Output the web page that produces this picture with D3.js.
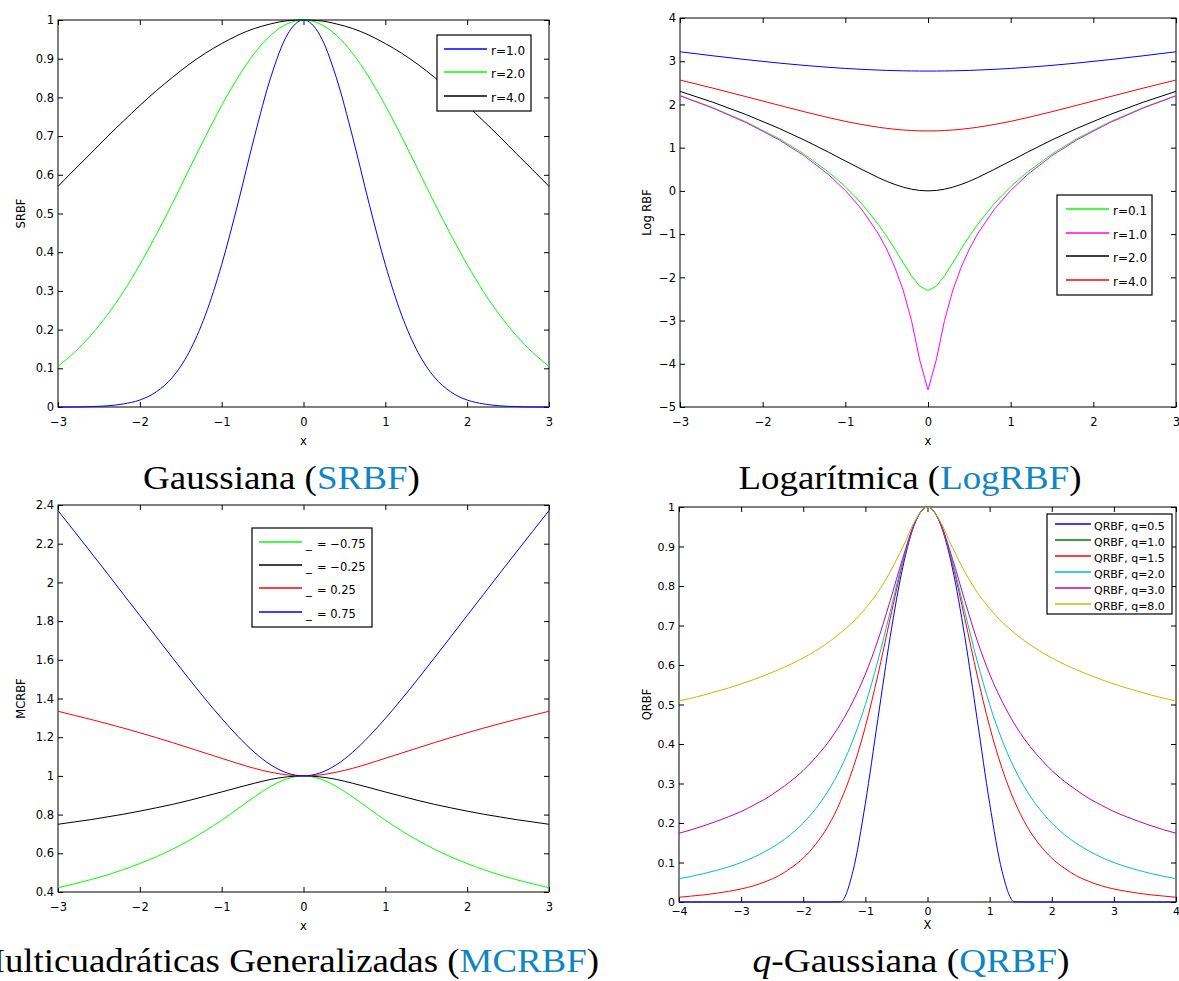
<!DOCTYPE html>
<html>
<head>
<meta charset="utf-8">
<script src="https://cdn.jsdelivr.net/npm/d3@7"></script>
<style>
body { margin: 0; background: #fff; }
svg { display: block; }
</style>
</head>
<body>
<svg id="chart" width="1179" height="981"></svg>
<script>
// ---- Gaussiana (SRBF) ----
const xSrbf = [-3,-2.8,-2.6,-2.4,-2.2,-2,-1.8,-1.6,-1.4,-1.2,-1,-0.8,-0.6,-0.4,-0.2,0,0.2,0.4,0.6,0.8,1,1.2,1.4,1.6,1.8,2,2.2,2.4,2.6,2.8,3];
const srbfR1 = [0,0,0.001,0.003,0.008,0.018,0.039,0.077,0.141,0.237,0.368,0.527,0.698,0.852,0.961,1,0.961,0.852,0.698,0.527,0.368,0.237,0.141,0.077,0.039,0.018,0.008,0.003,0.001,0,0];
const srbfR2 = [0.105,0.141,0.185,0.237,0.298,0.368,0.445,0.527,0.613,0.698,0.779,0.852,0.914,0.961,0.99,1,0.99,0.961,0.914,0.852,0.779,0.698,0.613,0.527,0.445,0.368,0.298,0.237,0.185,0.141,0.105];
const srbfR4 = [0.57,0.613,0.655,0.698,0.739,0.779,0.817,0.852,0.885,0.914,0.939,0.961,0.978,0.99,0.998,1,0.998,0.99,0.978,0.961,0.939,0.914,0.885,0.852,0.817,0.779,0.739,0.698,0.655,0.613,0.57];
const srbfLabels = ['r=1.0', 'r=2.0', 'r=4.0'];
const srbfYTicks = [0,0.1,0.2,0.3,0.4,0.5,0.6,0.7,0.8,0.9,1];

// ---- Logarítmica (LogRBF) ----
const xLog = [-3,-2.6,-2.2,-1.8,-1.5,-1.2,-1,-0.8,-0.6,-0.5,-0.4,-0.3,-0.2,-0.1,0,0.1,0.2,0.3,0.4,0.5,0.6,0.8,1,1.2,1.5,1.8,2.2,2.6,3];
const logBlue    = [3.219,3.125,3.037,2.957,2.904,2.859,2.833,2.812,2.795,2.788,2.783,2.778,2.775,2.773,2.773,2.773,2.775,2.778,2.783,2.788,2.795,2.812,2.833,2.859,2.904,2.957,3.037,3.125,3.219];
const logGreen   = [2.208,1.926,1.597,1.206,0.854,0.432,0.095,-0.301,-0.777,-1.05,-1.347,-1.661,-1.966,-2.207,-2.303,-2.207,-1.966,-1.661,-1.347,-1.05,-0.777,-0.301,0.095,0.432,0.854,1.206,1.597,1.926,2.208];
const logMagenta = [2.198,1.913,1.579,1.179,0.815,0.372,0.01,-0.431,-0.994,-1.347,-1.772,-2.303,-2.996,-3.912,-4.605,-3.912,-2.996,-2.303,-1.772,-1.347,-0.994,-0.431,0.01,0.372,0.815,1.179,1.579,1.913,2.198];
const logBlack   = [2.303,2.049,1.765,1.445,1.179,0.892,0.693,0.495,0.307,0.223,0.148,0.086,0.039,0.01,0,0.01,0.039,0.086,0.148,0.223,0.307,0.495,0.693,0.892,1.179,1.445,1.765,2.049,2.303];
const logRed     = [2.565,2.376,2.179,1.98,1.833,1.694,1.609,1.535,1.473,1.447,1.426,1.409,1.396,1.389,1.386,1.389,1.396,1.409,1.426,1.447,1.473,1.535,1.609,1.694,1.833,1.98,2.179,2.376,2.565];
const logLabels = ['r=0.1', 'r=1.0', 'r=2.0', 'r=4.0'];
const logYTicks = [-5,-4,-3,-2,-1,0,1,2,3,4];

// ---- Multicuadráticas Generalizadas (MCRBF) ----
const mcM075 = [0.422,0.442,0.464,0.488,0.516,0.547,0.582,0.621,0.666,0.716,0.771,0.831,0.891,0.946,0.985,1,0.985,0.946,0.891,0.831,0.771,0.716,0.666,0.621,0.582,0.547,0.516,0.488,0.464,0.442,0.422];
const mcM025 = [0.75,0.762,0.774,0.788,0.802,0.818,0.835,0.853,0.873,0.895,0.917,0.94,0.962,0.982,0.995,1,0.995,0.982,0.962,0.94,0.917,0.895,0.873,0.853,0.835,0.818,0.802,0.788,0.774,0.762,0.75];
const mcP025 = [1.334,1.313,1.292,1.27,1.247,1.223,1.198,1.172,1.145,1.118,1.091,1.064,1.039,1.019,1.005,1,1.005,1.019,1.039,1.064,1.091,1.118,1.145,1.172,1.198,1.223,1.247,1.27,1.292,1.313,1.334];
const mcP075 = [2.371,2.264,2.156,2.048,1.938,1.829,1.719,1.61,1.502,1.397,1.297,1.204,1.122,1.057,1.015,1,1.015,1.057,1.122,1.204,1.297,1.397,1.502,1.61,1.719,1.829,1.938,2.048,2.156,2.264,2.371];
const mcBetas = ['\u22120.75', '\u22120.25', '0.25', '0.75'];
const mcYTicks = [0.4,0.6,0.8,1,1.2,1.4,1.6,1.8,2,2.2,2.4];

// ---- q-Gaussiana (QRBF) ----
const xQ = [-4,-3.8,-3.6,-3.4,-3.2,-3,-2.8,-2.6,-2.4,-2.2,-2,-1.8,-1.6,-1.4,-1.2,-1,-0.8,-0.6,-0.4,-0.2,0,0.2,0.4,0.6,0.8,1,1.2,1.4,1.6,1.8,2,2.2,2.4,2.6,2.8,3,3.2,3.4,3.6,3.8,4];
const q05 = [0,0,0,0,0,0,0,0,0,0,0,0,0,0.0004,0.078,0.25,0.462,0.672,0.846,0.96,1,0.96,0.846,0.672,0.462,0.25,0.078,0.0004,0,0,0,0,0,0,0,0,0,0,0,0,0];
const q10 = []; // no curve drawn for q=1.0
const q15 = [0.012,0.015,0.018,0.022,0.027,0.033,0.041,0.052,0.066,0.086,0.111,0.146,0.192,0.255,0.338,0.444,0.574,0.718,0.857,0.961,1,0.961,0.857,0.718,0.574,0.444,0.338,0.255,0.192,0.146,0.111,0.086,0.066,0.052,0.041,0.033,0.027,0.022,0.018,0.015,0.012];
const q20 = [0.059,0.065,0.072,0.08,0.089,0.1,0.113,0.129,0.148,0.171,0.2,0.236,0.281,0.338,0.41,0.5,0.61,0.735,0.862,0.962,1,0.962,0.862,0.735,0.61,0.5,0.41,0.338,0.281,0.236,0.2,0.171,0.148,0.129,0.113,0.1,0.089,0.08,0.072,0.065,0.059];
const q30 = [0.174,0.183,0.193,0.204,0.216,0.229,0.245,0.262,0.283,0.306,0.333,0.366,0.404,0.451,0.508,0.577,0.662,0.763,0.87,0.962,1,0.962,0.87,0.763,0.662,0.577,0.508,0.451,0.404,0.366,0.333,0.306,0.283,0.262,0.245,0.229,0.216,0.204,0.193,0.183,0.174];
const q80 = [0.509,0.516,0.524,0.533,0.542,0.552,0.563,0.575,0.588,0.602,0.618,0.636,0.657,0.681,0.709,0.743,0.784,0.836,0.898,0.965,1,0.965,0.898,0.836,0.784,0.743,0.709,0.681,0.657,0.636,0.618,0.602,0.588,0.575,0.563,0.552,0.542,0.533,0.524,0.516,0.509];
const qLabels = ['QRBF, q=0.5','QRBF, q=1.0','QRBF, q=1.5','QRBF, q=2.0','QRBF, q=3.0','QRBF, q=8.0'];
const qYTicks = [0,0.1,0.2,0.3,0.4,0.5,0.6,0.7,0.8,0.9,1];

const xTicks3 = [-3,-2,-1,0,1,2,3];
const xTicks4 = [-4,-3,-2,-1,0,1,2,3,4];

const svg = d3.select('#chart');
const FONT = '"DejaVu Sans", Arial, sans-serif';
const fmt = d => (d < 0 ? '\u2212' : '') + Math.abs(d);

//每個子圖的設定
const panels = [
    {
        id: 'srbf', left: 58, right: 549, top: 20, bottom: 407,
        xDomain: [-3, 3], yDomain: [0, 1], xTicks: xTicks3, yTicks: srbfYTicks,
        xs: xSrbf, curve: d3.curveMonotoneX, tickFont: 11.5, xPad: 11,
        series: [
            { values: srbfR1, color: '#0000ff' },
            { values: srbfR2, color: '#00ff00' },
            { values: srbfR4, color: '#000000' }
        ],
        xLabel: 'x', xLabelDy: 38, yLabel: 'SRBF', yLabelX: 25,
        legend: { x: 437, y: 35, w: 94, h: 76, rows: [49, 72, 96], x0: 444, x1: 487, tx: 491, font: 12,
                  labels: srbfLabels, colors: ['#0000ff', '#00ff00', '#000000'] }
    },
    {
        id: 'log', left: 680, right: 1176, top: 18, bottom: 407,
        xDomain: [-3, 3], yDomain: [-5, 4], xTicks: xTicks3, yTicks: logYTicks,
        xs: xLog, curve: d3.curveLinear, tickFont: 11.5, xPad: 11,
        series: [
            { values: logBlue, color: '#0000ff' },
            { values: logGreen, color: '#00ff00' },
            { values: logMagenta, color: '#ff00ff' },
            { values: logBlack, color: '#000000' },
            { values: logRed, color: '#ff0000' }
        ],
        xLabel: 'x', xLabelDy: 38, yLabel: 'Log RBF', yLabelX: 651,
        legend: { x: 1057, y: 195, w: 95, h: 100, rows: [209, 233, 256, 280], x0: 1066, x1: 1109, tx: 1113, font: 12,
                  labels: logLabels, colors: ['#00ff00', '#ff00ff', '#000000', '#ff0000'] }
    },
    {
        id: 'mc', left: 58, right: 549, top: 505, bottom: 892,
        xDomain: [-3, 3], yDomain: [0.4, 2.4], xTicks: xTicks3, yTicks: mcYTicks,
        xs: xSrbf, curve: d3.curveMonotoneX, tickFont: 11.5, xPad: 11,
        series: [
            { values: mcM075, color: '#00ff00' },
            { values: mcM025, color: '#000000' },
            { values: mcP025, color: '#ff0000' },
            { values: mcP075, color: '#0000ff' }
        ],
        xLabel: 'x', xLabelDy: 38, yLabel: 'MCRBF', yLabelX: 25,
        legend: { x: 252, y: 528, w: 120, h: 99, rows: [542, 565, 588, 612], x0: 259, x1: 302, tx: 317, font: 11.5,
                  under: 306, labels: mcBetas.map(b => '= ' + b), colors: ['#00ff00', '#000000', '#ff0000', '#0000ff'] }
    },
    {
        id: 'q', left: 679, right: 1176, top: 507, bottom: 902,
        xDomain: [-4, 4], yDomain: [0, 1], xTicks: xTicks4, yTicks: qYTicks,
        xs: xQ, curve: d3.curveMonotoneX, tickFont: 11, xPad: 5,
        series: [
            { values: q05, color: '#0000ff' },
            { values: q10, color: '#008000' },
            { values: q15, color: '#ff0000' },
            { values: q20, color: '#00bfbf' },
            { values: q30, color: '#bf00bf' },
            { values: q80, color: '#bfbf00' }
        ],
        xLabel: 'X', xLabelDy: 27, yLabel: 'QRBF', yLabelX: 651,
        legend: { x: 1047, y: 514, w: 125, h: 100, rows: [524, 540, 556, 572, 588, 604], x0: 1055, x1: 1091, tx: 1094, font: 11,
                  labels: qLabels, colors: ['#0000ff', '#008000', '#ff0000', '#00bfbf', '#bf00bf', '#bfbf00'] }
    }
];

function drawPanel(p) {
    const x = d3.scaleLinear().domain(p.xDomain).range([p.left, p.right]);
    const y = d3.scaleLinear().domain(p.yDomain).range([p.bottom, p.top]);
    const g = svg.append('g').attr('class', 'panel-' + p.id);

    g.append('clipPath').attr('id', 'clip-' + p.id).append('rect')
        .attr('x', p.left - 1).attr('y', p.top - 1)
        .attr('width', p.right - p.left + 2).attr('height', p.bottom - p.top + 2);

    //外框
    g.append('rect').attr('x', p.left).attr('y', p.top)
        .attr('width', p.right - p.left).attr('height', p.bottom - p.top)
        .attr('fill', 'none').attr('stroke', '#000').attr('stroke-width', 1);

    //四邊的刻度（向內）
    const tl = -5;
    const axes = [
        [d3.axisBottom(x).tickValues(p.xTicks).tickFormat(fmt).tickSizeInner(tl).tickSizeOuter(0).tickPadding(p.xPad), `translate(0,${p.bottom})`],
        [d3.axisTop(x).tickValues(p.xTicks).tickFormat('').tickSizeInner(tl).tickSizeOuter(0), `translate(0,${p.top})`],
        [d3.axisLeft(y).tickValues(p.yTicks).tickFormat(fmt).tickSizeInner(tl).tickSizeOuter(0).tickPadding(4), `translate(${p.left},0)`],
        [d3.axisRight(y).tickValues(p.yTicks).tickFormat('').tickSizeInner(tl).tickSizeOuter(0), `translate(${p.right},0)`]
    ];
    axes.forEach(([ax, tr]) => {
        g.append('g').attr('transform', tr).call(ax)
            .attr('font-family', FONT).attr('font-size', p.tickFont)
            .call(a => a.select('.domain').remove())
            .call(a => a.selectAll('.tick line').attr('stroke', '#000'))
            .call(a => a.selectAll('.tick text').attr('fill', '#000'));
    });

    //曲線
    const line = d3.line().x(d => x(d[0])).y(d => y(d[1])).curve(p.curve);
    g.append('g').attr('clip-path', `url(#clip-${p.id})`)
        .selectAll('path').data(p.series.filter(s => s.values.length)).join('path')
        .attr('d', s => line(p.xs.map((xv, i) => [xv, s.values[i]])))
        .attr('fill', 'none').attr('stroke', s => s.color).attr('stroke-width', 1);

    //座標軸標題
    g.append('text').attr('x', (p.left + p.right) / 2).attr('y', p.bottom + p.xLabelDy)
        .attr('text-anchor', 'middle').attr('font-family', FONT).attr('font-size', 11.5)
        .text(p.xLabel);
    g.append('text')
        .attr('transform', `translate(${p.yLabelX},${(p.top + p.bottom) / 2}) rotate(-90)`)
        .attr('text-anchor', 'middle').attr('font-family', FONT).attr('font-size', 11.5)
        .text(p.yLabel);

    //圖例
    const L = p.legend;
    const lg = g.append('g');
    lg.append('rect').attr('x', L.x).attr('y', L.y).attr('width', L.w).attr('height', L.h)
        .attr('fill', '#fff').attr('stroke', '#000').attr('stroke-width', 1.2);
    L.labels.forEach((lab, i) => {
        const ry = L.rows[i];
        lg.append('line').attr('x1', L.x0).attr('x2', L.x1).attr('y1', ry).attr('y2', ry)
            .attr('stroke', L.colors[i]).attr('stroke-width', 1.3);
        if (L.under !== undefined) {
            lg.append('text').attr('x', L.under).attr('y', ry + 6)
                .attr('font-family', FONT).attr('font-size', L.font).attr('fill', '#000').text('_');
        }
        lg.append('text').attr('x', L.tx).attr('y', ry + 2).attr('dy', '0.35em')
            .attr('font-family', FONT).attr('font-size', L.font).attr('fill', '#000').text(lab);
    });
}

panels.forEach(drawPanel);

//下方的大標題（LaTeX 風格）
const capBlue = '#0f85c1';
const captions = [
    { x: 281.5, y: 489, width: 277, anchor: 'middle', parts: [{ t: 'Gaussiana (' }, { t: 'SRBF', c: capBlue }, { t: ')' }] },
    { x: 910, y: 489, width: 343, anchor: 'middle', parts: [{ t: 'Logarítmica (' }, { t: 'LogRBF', c: capBlue }, { t: ')' }] },
    { x: 599, y: 972, width: 627, anchor: 'end', parts: [{ t: 'Multicuadráticas Generalizadas (' }, { t: 'MCRBF', c: capBlue }, { t: ')' }] },
    { x: 911, y: 972, width: 317, anchor: 'middle', parts: [{ t: 'q', i: true }, { t: '-Gaussiana (' }, { t: 'QRBF', c: capBlue }, { t: ')' }] }
];
captions.forEach(c => {
    const t = svg.append('text').attr('font-family', '"Liberation Serif", "Times New Roman", serif')
        .attr('font-size', 34).attr('text-anchor', c.anchor);
    c.parts.forEach(pt => {
        t.append('tspan').text(pt.t).attr('fill', pt.c || '#000')
            .attr('font-style', pt.i ? 'italic' : null);
    });
    const w = t.node().getComputedTextLength();
    t.attr('transform', `translate(${c.x},${c.y}) scale(${c.width / w},1)`);
});
</script>
</body>
</html>
